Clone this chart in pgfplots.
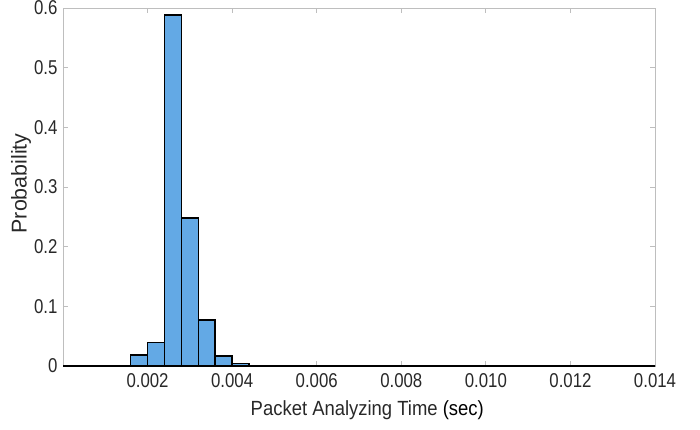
\documentclass[border=0pt]{standalone}
\usepackage{pgfplots}
\pgfplotsset{compat=1.18}
\usepackage{fontspec}
\setmainfont{Liberation Sans}
\newfontfamily\narrowfont[FakeStretch=0.84]{Liberation Sans}
\newfontfamily\labelfont[FakeStretch=0.9]{Liberation Sans}
\definecolor{barblue}{RGB}{99,169,229}
\definecolor{txtgray}{RGB}{40,40,40}
\definecolor{axgray}{RGB}{190,190,190}
\pgfplotstableread{
x y
0.0000 0
0.0004 0
0.0008 0
0.0012 0
0.0016 0.0186
0.0020 0.0390
0.0024 0.5880
0.0028 0.2480
0.0032 0.0775
0.0036 0.0165
0.0040 0.0042
0.0044 0.0012
0.0048 0
0.0052 0
0.0056 0
0.0060 0
0.0064 0
0.0068 0
0.0072 0
0.0076 0
0.0080 0
0.0084 0
0.0088 0
0.0092 0
0.0096 0
0.0100 0
0.0104 0
0.0108 0
0.0112 0
0.0116 0
0.0120 0
0.0124 0
0.0128 0
0.0132 0.0012
0.0136 0
0.0140 0
}\histdata
\begin{document}
\begin{tikzpicture}[x=1pt,y=1pt]
\useasboundingbox (0,0) rectangle (700,429);
\begin{axis}[
  at={(63pt,63pt)}, anchor=south west,
  scale only axis, width=592pt, height=358pt,
  xmin=0, xmax=0.014, ymin=0, ymax=0.6,
  xtick={0.002,0.004,0.006,0.008,0.010,0.012,0.014},
  ytick={0,0.1,0.2,0.3,0.4,0.5,0.6},
  scaled x ticks=false, scaled y ticks=false,
  xticklabel style={/pgf/number format/fixed, /pgf/number format/fixed zerofill, /pgf/number format/precision=3, yshift=-4pt},
  yticklabel style={/pgf/number format/fixed, /pgf/number format/precision=1, xshift=-2pt},
  /pgf/number format/assume math mode=true,
  tick label style={font=\narrowfont\fontsize{20}{20}\selectfont, text=txtgray},
  tick align=inside, major tick length=5pt,
  tick style={axgray, line width=0.8pt},
  axis line style={axgray, line width=0.8pt},
  xlabel={\textcolor{txtgray}{Packet Analyzing Time} (sec)},
  ylabel={Probability},
  xlabel style={font=\labelfont\fontsize{20.5}{21}\selectfont, at={(axis description cs:0.514,0)}, yshift=-31pt, anchor=north},
  ylabel style={font=\fontsize{21.4}{22}\selectfont, text=txtgray, at={(axis description cs:-0.048,0.51)}, anchor=south},
]
\addplot[ybar interval, fill=barblue, draw=black, line width=1.5pt] table[x=x,y=y] {\histdata};
\end{axis}
\end{tikzpicture}
\end{document}
